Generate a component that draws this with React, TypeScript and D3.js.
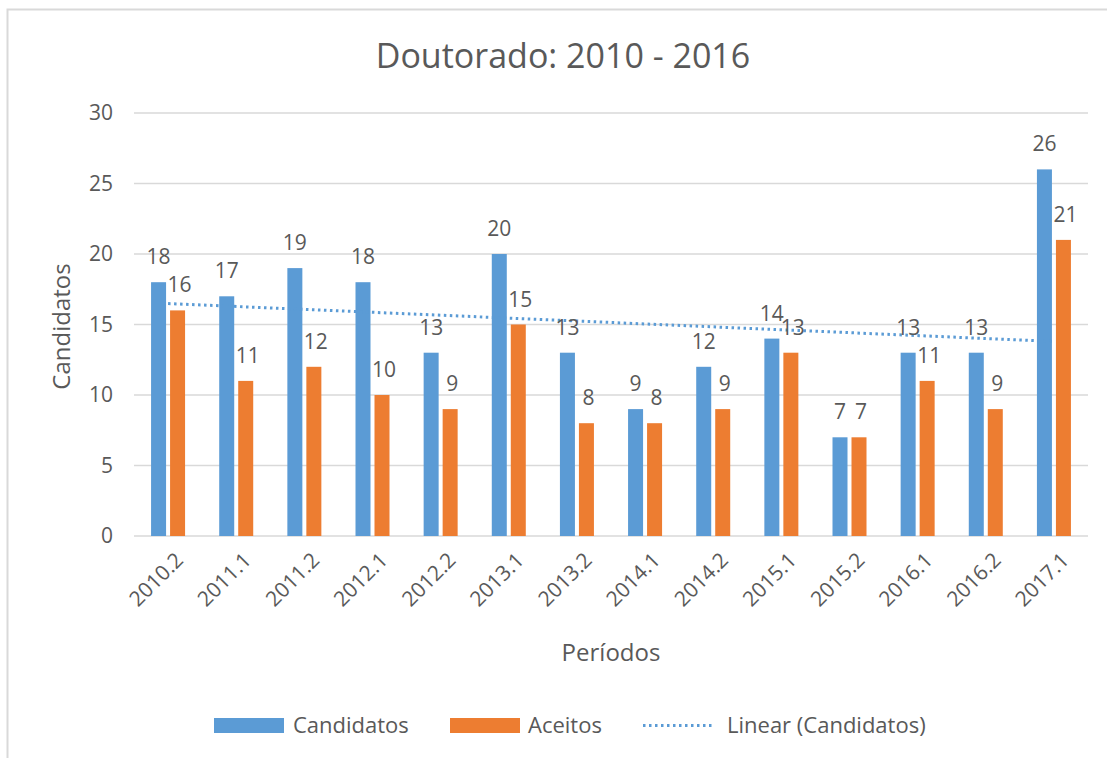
import React from 'react';
import * as d3 from 'd3';

const periods = ['2010.2', '2011.1', '2011.2', '2012.1', '2012.2', '2013.1', '2013.2', '2014.1', '2014.2', '2015.1', '2015.2', '2016.1', '2016.2', '2017.1'];
const candidatos = [18, 17, 19, 18, 13, 20, 13, 9, 12, 14, 7, 13, 13, 26];
const aceitos = [16, 11, 12, 10, 9, 15, 8, 8, 9, 13, 7, 11, 9, 21];
const yTicks = [0, 5, 10, 15, 20, 25, 30];

const FONT = '"Open Sans", "Noto Sans", sans-serif';
const TEXT = '#595959';
const BLUE = '#5b9bd5';
const ORANGE = '#ed7d31';

export default function App() {
    const width = 1107;
    const height = 758;
    const plot = { left: 134, right: 1088, top: 113, bottom: 536 };

    // scales
    const xScale = d3.scaleBand<string>()
        .domain(periods)
        .range([plot.left, plot.right])
        .padding(0);
    const yScale = d3.scaleLinear()
        .domain([0, 30])
        .range([plot.bottom, plot.top]);

    const barW = 15;
    const gap = 4;
    const center = (p: string) => (xScale(p) as number) + xScale.bandwidth() / 2;

    // linear trendline (least squares on Candidatos)
    const n = candidatos.length;
    const xs = candidatos.map((_, i) => i + 1);
    const mx = d3.mean(xs) as number;
    const my = d3.mean(candidatos) as number;
    const slope = d3.sum(xs, (x, i) => (x - mx) * (candidatos[i] - my)) / d3.sum(xs, x => (x - mx) ** 2);
    const intercept = my - slope * mx;
    const trend = periods.map((p, i) => ({ p, v: intercept + slope * (i + 1) }));
    const trendPath = d3.line<{ p: string; v: number }>()
        .x(d => center(d.p))
        .y(d => yScale(d.v))([trend[0], trend[n - 1]]);

    return (
        <svg width={width} height={height} style={{ position: 'absolute', left: 0, top: 0 }}>
            <rect x={0} y={0} width={width} height={height} fill="#fff" />
            <rect x={7.5} y={9.5} width={width + 10} height={height + 10} fill="#fff" stroke="#d9d9d9" strokeWidth={2} />

            {/* Title */}
            <text x={563} y={68} textAnchor="middle" fontFamily={FONT} fontSize={34} fill={TEXT}>
                Doutorado: 2010 - 2016
            </text>

            {/* Gridlines + y ticks */}
            {yTicks.map(t => (
                <g key={t}>
                    <line x1={plot.left} x2={plot.right} y1={yScale(t)} y2={yScale(t)} stroke="#d9d9d9" strokeWidth={1.5} />
                    <text x={113} y={yScale(t)} dy="0.35em" textAnchor="end" fontFamily={FONT} fontSize={21} fill={TEXT}>
                        {t}
                    </text>
                </g>
            ))}

            {/* Bars */}
            {periods.map((p, i) => {
                const c = center(p);
                const bx = c - gap / 2 - barW;
                const ox = c + gap / 2;
                return (
                    <g key={p}>
                        <rect x={bx} y={yScale(candidatos[i])} width={barW} height={plot.bottom - yScale(candidatos[i])} fill={BLUE} />
                        <rect x={ox} y={yScale(aceitos[i])} width={barW} height={plot.bottom - yScale(aceitos[i])} fill={ORANGE} />
                    </g>
                );
            })}

            {/* Trendline */}
            <path d={trendPath as string} fill="none" stroke={BLUE} strokeWidth={3} strokeDasharray="2.5 3.5" />

            {/* Data labels */}
            {periods.map((p, i) => {
                const c = center(p);
                return (
                    <g key={p} fontFamily={FONT} fontSize={21} fill={TEXT} textAnchor="middle">
                        <text x={c - gap / 2 - barW / 2} y={yScale(candidatos[i]) - 18}>{candidatos[i]}</text>
                        <text x={c + gap / 2 + barW / 2 + 2} y={yScale(aceitos[i]) - 18}>{aceitos[i]}</text>
                    </g>
                );
            })}

            {/* X tick labels */}
            {periods.map(p => (
                <text
                    key={p}
                    transform={`translate(${center(p) + 6}, ${plot.bottom + 15}) rotate(-45)`}
                    textAnchor="end"
                    dy="0.7em"
                    fontFamily={FONT}
                    fontSize={21}
                    fill={TEXT}
                >
                    {p}
                </text>
            ))}

            {/* Axis titles */}
            <text x={611} y={661} textAnchor="middle" fontFamily={FONT} fontSize={24} fill={TEXT}>Períodos</text>
            <text transform={`translate(70, ${(plot.top + plot.bottom) / 2 + 2}) rotate(-90)`} textAnchor="middle" fontFamily={FONT} fontSize={24} fill={TEXT}>
                Candidatos
            </text>

            {/* Legend */}
            <g fontFamily={FONT} fontSize={22} fill={TEXT}>
                <rect x={214} y={718} width={70} height={15} fill={BLUE} />
                <text x={293} y={725} dy="0.35em">Candidatos</text>
                <rect x={450} y={718} width={70} height={15} fill={ORANGE} />
                <text x={528} y={725} dy="0.35em">Aceitos</text>
                <line x1={643} x2={713} y1={725.5} y2={725.5} stroke={BLUE} strokeWidth={3} strokeDasharray="2.5 3.5" />
                <text x={727} y={725} dy="0.35em">Linear (Candidatos)</text>
            </g>
        </svg>
    );
}
